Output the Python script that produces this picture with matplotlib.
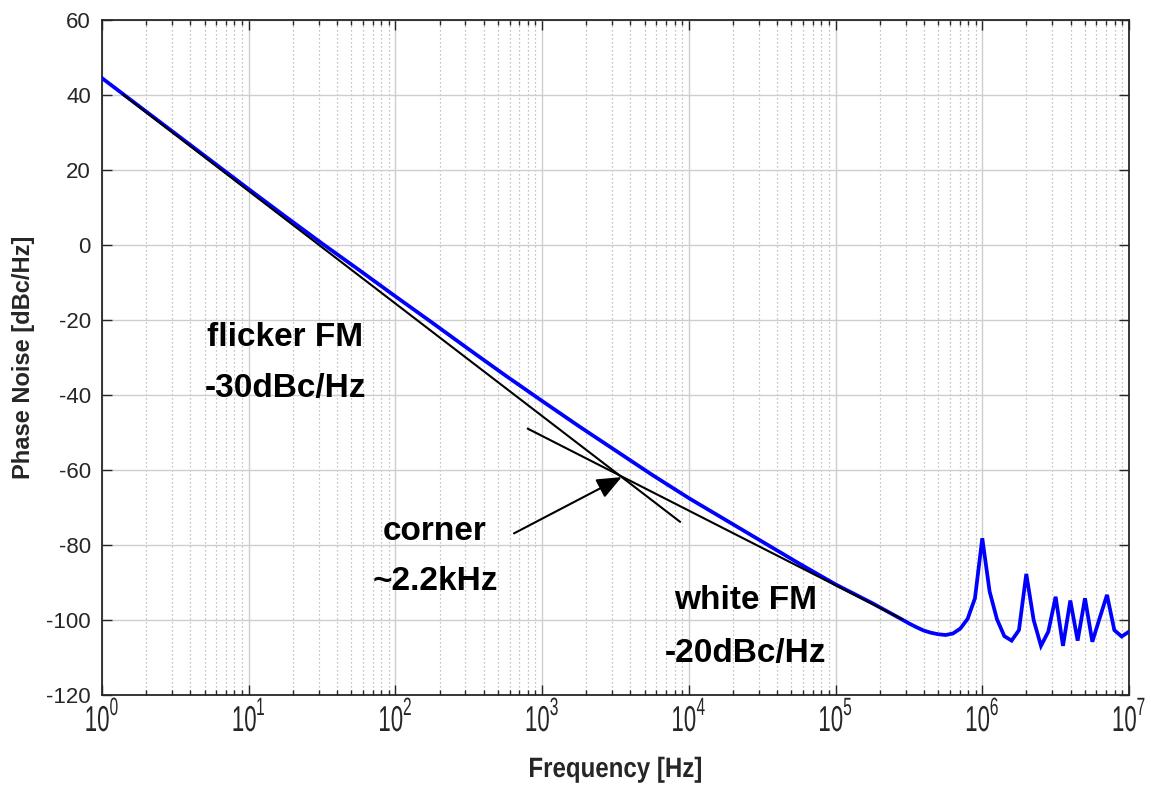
import numpy as np
import matplotlib
matplotlib.use("Agg")
import matplotlib.pyplot as plt
from matplotlib import font_manager
from matplotlib.font_manager import FontProperties
from matplotlib.ticker import LogLocator, FixedLocator, NullFormatter
from matplotlib.textpath import TextPath
from matplotlib.patches import PathPatch
from matplotlib.transforms import Affine2D


def has_font(name):
    try:
        font_manager.findfont(FontProperties(family=name), fallback_to_default=False)
        return True
    except Exception:
        return False


BASE = "Liberation Sans" if has_font("Liberation Sans") else "DejaVu Sans"
plt.rcParams["font.family"] = [BASE, "DejaVu Sans"]

# Simulated phase noise (offset frequency in Hz, level in dBc/Hz)
freq_hz = [1, 1.778, 3.162, 5.623, 10, 17.78, 31.62, 56.23, 100, 177.8, 316.2, 562.3,
           1000, 1778, 3162, 5623, 1.0e4, 1.778e4, 3.162e4, 5.623e4, 1.0e5, 1.778e5,
           2.818e5, 3.162e5, 3.548e5, 3.981e5, 4.467e5, 5.012e5, 5.623e5, 6.310e5, 7.079e5,
           7.943e5, 8.913e5, 1.0e6, 1.122e6, 1.259e6, 1.413e6, 1.585e6, 1.778e6, 1.995e6,
           2.239e6, 2.512e6, 2.818e6, 3.162e6, 3.548e6, 3.981e6, 4.467e6, 5.012e6, 5.623e6,
           6.310e6, 7.079e6, 7.943e6, 8.913e6, 1.0e7]
phase_noise_dbc = [44.5, 37.1, 29.7, 22.3, 14.9, 7.6, 0.4, -6.6, -13.7, -20.7, -27.8, -34.8,
                   -41.6, -48.3, -54.8, -61.3, -67.5, -73.3, -79.1, -84.9, -90.5, -95.5,
                   -99.8, -100.9, -101.9, -102.8, -103.4, -103.8, -104.0, -103.6, -102.3,
                   -99.7, -94.2, -78.2, -92.4, -99.8, -104.3, -105.5, -102.7, -87.7,
                   -100.0, -106.9, -103.1, -93.8, -106.9, -94.8, -105.5, -94.2, -105.8,
                   -99.5, -93.3, -102.7, -104.4, -103.1]

# Asymptotes: flicker FM (-30 dB/dec) and white FM (-20 dB/dec)
flicker_f = [1.39, 8.7e3]
flicker_db = [40.1, -73.8]
white_f = [800, 2.85e5]
white_db = [-49.0, -99.8]

x_decades = [0, 1, 2, 3, 4, 5, 6, 7]
y_ticks = [-120, -100, -80, -60, -40, -20, 0, 20, 40, 60]

TXT = "#262626"
W, H = 1151, 785

fig = plt.figure(figsize=(W / 100, H / 100), dpi=100)
ax = fig.add_axes([102 / W, 1 - 695 / H, (1129 - 102) / W, (695 - 20) / H])

ax.plot(freq_hz, phase_noise_dbc, color="#0000ff", lw=2.7, solid_joinstyle="miter", zorder=3)
ax.plot(flicker_f, flicker_db, color="black", lw=1.5, zorder=4)
ax.plot(white_f, white_db, color="black", lw=1.5, zorder=4)

ax.set_xscale("log")
ax.set_xlim(1, 1e7)
ax.set_ylim(-120, 60)

ax.xaxis.set_major_locator(FixedLocator([10.0 ** d for d in x_decades]))
ax.xaxis.set_minor_locator(LogLocator(base=10, subs=np.arange(2, 10), numticks=100))
ax.xaxis.set_minor_formatter(NullFormatter())
ax.set_xticklabels([])
ax.set_yticks(y_ticks)
ax.set_yticklabels([str(v) for v in y_ticks])

ax.grid(which="major", axis="both", color="#cecece", lw=1.0, ls="-", zorder=0)
ax.grid(which="minor", axis="x", color="#b0b0b0", lw=0.9, ls=(0, (1, 2.2)), zorder=0)
ax.set_axisbelow(True)

for s in ax.spines.values():
    s.set_color(TXT)
    s.set_linewidth(1.3)

ax.tick_params(which="both", direction="in", top=True, right=True, color=TXT, width=1.0)
ax.tick_params(which="major", length=7.2)
ax.tick_params(which="minor", length=3.6)
ax.tick_params(axis="y", labelsize=16, labelcolor=TXT, pad=8)

ax.set_ylabel("Phase Noise [dBc/Hz]", fontsize=17, fontweight="bold", color=TXT, labelpad=8)


def squeezed(text, size, sx, weight="normal"):
    """Text outline in pixel units, compressed horizontally by sx."""
    path = TextPath((0, 0), text, size=size, prop=FontProperties(family=BASE, weight=weight))
    ext = path.get_extents()
    return path, ext.x0 * sx, ext.x1 * sx


def place(path, sx, x, y):
    patch = PathPatch(path, transform=Affine2D().scale(sx, 1).translate(x, y),
                      facecolor=TXT, edgecolor="none", lw=0)
    fig.add_artist(patch)


# Decade tick labels (10^n) in a tall, condensed style
SX = 0.62
spine_y = ax.transAxes.transform((0, 0))[1]
for d in x_decades:
    xt = ax.transData.transform((10.0 ** d, -120))[0]
    main, m0, m1 = squeezed("10", 36, SX)
    sup, s0, s1 = squeezed(str(d), 25, SX)
    gap = 1.5
    total = (m1 - m0) + gap + (s1 - s0)
    left = xt - total / 2
    place(main, SX, left - m0, spine_y - 36)
    place(sup, SX, left + (m1 - m0) + gap - s0, spine_y - 20)

# x-axis title
xl, x0, x1 = squeezed("Frequency [Hz]", 28, 0.86, weight="bold")
xc = ax.transAxes.transform((0.5, 0))[0]
place(xl, 0.86, xc - (x0 + x1) / 2, 8)

note = dict(fontsize=24, fontweight="bold", color="black", zorder=5)
ax.text(5.2, -26.9, "flicker FM", ha="left", va="baseline", **note)
ax.text(5.0, -40.5, "-30dBc/Hz", ha="left", va="baseline", **note)
ax.text(186, -78.7, "corner", ha="center", va="baseline", **note)
ax.text(186, -92.0, "~2.2kHz", ha="center", va="baseline", **note)
ax.text(24500, -97.1, "white FM", ha="center", va="baseline", **note)
ax.text(24500, -111.1, "-20dBc/Hz", ha="center", va="baseline", **note)

ax.annotate("", xy=(3484, -61.9), xytext=(643, -76.9),
            arrowprops=dict(arrowstyle="-|>,head_length=0.6,head_width=0.25", color="black",
                            lw=1.5, mutation_scale=25, shrinkA=0, shrinkB=0), zorder=5)

fig.savefig("out.png", dpi=100)
